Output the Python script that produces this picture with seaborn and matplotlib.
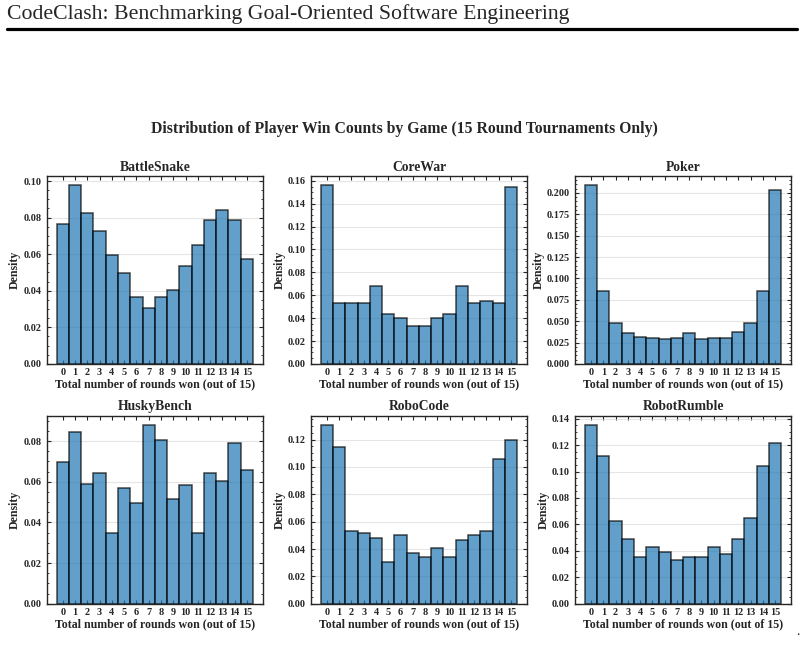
import pandas as pd
import seaborn as sns
import matplotlib.pyplot as plt
from matplotlib.ticker import AutoMinorLocator

# rounds won (0..15) and density per game
rounds = list(range(16))
battlesnake = [0.0767, 0.0978, 0.0824, 0.0729, 0.0593, 0.0498, 0.0364, 0.0307,
               0.0364, 0.0402, 0.0536, 0.0651, 0.0785, 0.0842, 0.0785, 0.0575]
corewar = [0.1562, 0.0528, 0.0528, 0.0528, 0.0677, 0.0438, 0.0404, 0.0331,
           0.0331, 0.0404, 0.0438, 0.0677, 0.0528, 0.0549, 0.0528, 0.1542]
poker = [0.2097, 0.0858, 0.0483, 0.0359, 0.0320, 0.0304, 0.0289, 0.0304,
         0.0359, 0.0289, 0.0304, 0.0304, 0.0374, 0.0483, 0.0858, 0.2039]
huskybench = [0.0697, 0.0844, 0.0587, 0.0641, 0.0348, 0.0567, 0.0495, 0.0880,
              0.0807, 0.0513, 0.0585, 0.0348, 0.0641, 0.0605, 0.0789, 0.0659]
robocode = [0.1307, 0.1142, 0.0534, 0.0515, 0.0481, 0.0304, 0.0500, 0.0374,
            0.0340, 0.0408, 0.0340, 0.0464, 0.0500, 0.0534, 0.1054, 0.1195]
robotrumble = [0.1355, 0.1118, 0.0627, 0.0489, 0.0355, 0.0433, 0.0393, 0.0332,
               0.0355, 0.0355, 0.0433, 0.0375, 0.0489, 0.0650, 0.1040, 0.1216]

games = ["BattleSnake", "CoreWar", "Poker", "HuskyBench", "RoboCode", "RobotRumble"]
densities = [battlesnake, corewar, poker, huskybench, robocode, robotrumble]

sns.set_style("ticks")
plt.rcParams["font.family"] = ["Liberation Serif", "DejaVu Serif"]

fig, axes = plt.subplots(2, 3, figsize=(8.08, 6.45), dpi=100)
fig.subplots_adjust(left=0.058, right=0.979, top=0.727, bottom=0.064,
                    wspace=0.223, hspace=0.277)

for ax, game, dens in zip(axes.flat, games, densities):
    df = pd.DataFrame({"won": rounds, "density": dens})
    sns.histplot(data=df, x="won", weights="density", discrete=True,
                 stat="density", color="#1f77b4", alpha=0.7,
                 edgecolor=(0, 0, 0, 0.7), linewidth=1.1, ax=ax)
    ax.set_title(game, fontsize=9.8, fontweight="bold", pad=4)
    ax.set_xlabel("Total number of rounds won (out of 15)", fontsize=8.6,
                  fontweight="bold", labelpad=1)
    ax.set_ylabel("Density", fontsize=8.6, fontweight="bold", labelpad=1.5)
    ax.set_xticks(rounds)
    ax.grid(axis="y", color="#d5d5d5", alpha=0.6, linewidth=0.8)
    ax.set_axisbelow(True)
    ax.yaxis.set_minor_locator(AutoMinorLocator())
    ax.tick_params(which="major", direction="in", top=True, right=True,
                   length=3, width=0.8, labelsize=7.4)
    ax.tick_params(axis="x", pad=3)
    ax.tick_params(axis="y", pad=4)
    ax.tick_params(which="minor", direction="in", left=True, right=True,
                   length=1.5, width=0.6)
    for lab in ax.get_xticklabels() + ax.get_yticklabels():
        lab.set_fontweight("bold")
    for sp in ax.spines.values():
        sp.set_linewidth(1)

fig.suptitle("Distribution of Player Win Counts by Game (15 Round Tournaments Only)",
             fontsize=11.3, fontweight="bold", y=0.813)

# page header from the paper
fig.text(0.009, 0.978, "CodeClash: Benchmarking Goal-Oriented Software Engineering",
         fontsize=15.7, ha="left", va="center")
fig.add_artist(plt.Line2D([0.009, 0.987], [0.955, 0.955], color="black",
                          linewidth=2.3, transform=fig.transFigure))
fig.text(0.988, 0.015, ".", fontsize=10, ha="center")

plt.savefig("out.png", dpi=100)
